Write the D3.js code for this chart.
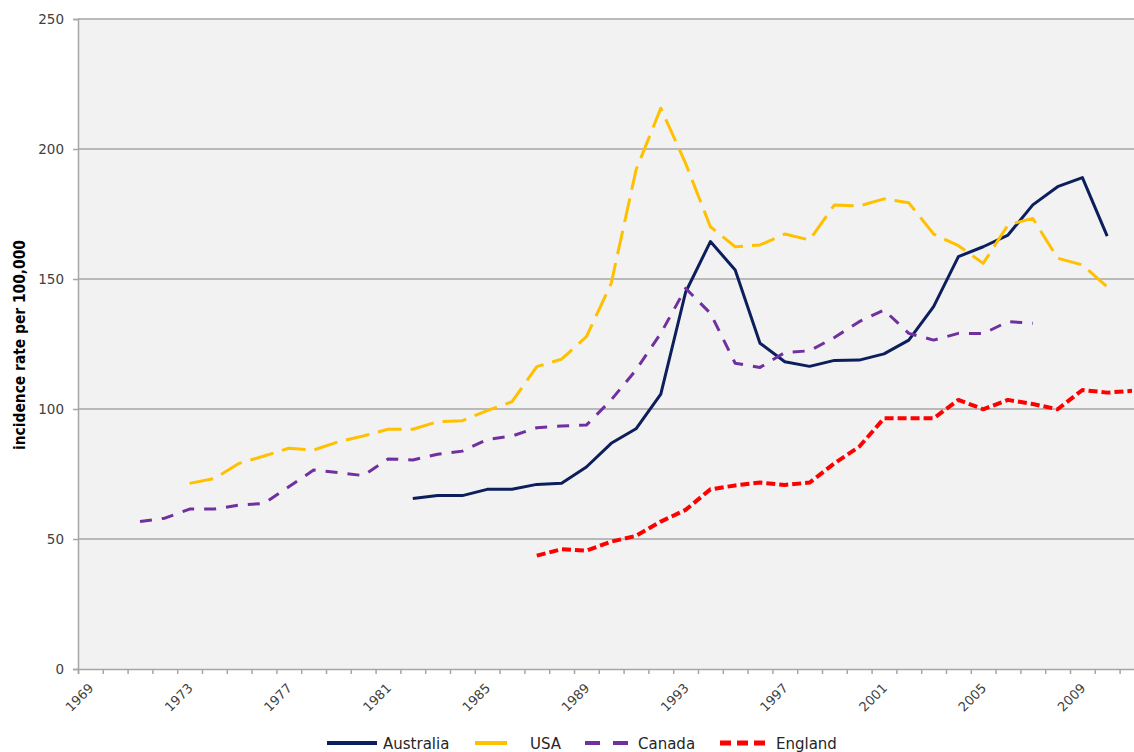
<!DOCTYPE html>
<html>
<head>
<meta charset="utf-8">
<script src="https://cdn.jsdelivr.net/npm/d3@7"></script>
<style>
  html, body { margin: 0; padding: 0; background: #fff; }
  svg { display: block; overflow: hidden; }
</style>
</head>
<body>
<div id="chart"></div>
<script>
// incidence rate per 100,000 by year
const firstYear = 1969, lastYear = 2011;
const tickYears = [1969, 1973, 1977, 1981, 1985, 1989, 1993, 1997, 2001, 2005, 2009];
const yTicks = [0, 50, 100, 150, 200, 250];

const australiaStart = 1982;
const australia = [65.6, 66.7, 66.7, 69.1, 69.1, 71.0, 71.4, 77.7, 86.8, 92.4,
  105.7, 144.9, 164.4, 153.5, 125.3, 118.2, 116.4, 118.7, 118.8, 121.2,
  126.5, 139.4, 158.6, 162.4, 166.9, 178.5, 185.5, 189.0, 166.5];

const usaStart = 1973;
const usa = [71.4, 73.3, 79.1, 81.9, 84.9, 84.2, 87.4, 89.6, 92.2, 92.2,
  95.1, 95.5, 99.4, 102.8, 116.3, 119.2, 127.8, 148.3, 191.9, 215.7,
  194.5, 170.1, 162.4, 163.1, 167.3, 165.0, 178.5, 178.1, 180.8, 179.3,
  167.3, 162.8, 156.0, 170.8, 173.3, 158.0, 155.4, 147.0];

const canadaStart = 1971;
const canada = [56.7, 58.0, 61.5, 61.5, 63.1, 63.7, 70.1, 76.5, 75.5, 74.4,
  80.8, 80.4, 82.6, 83.8, 88.3, 89.6, 92.8, 93.5, 93.8, 103.5,
  115.0, 129.1, 146.4, 136.8, 117.6, 116.0, 121.7, 122.4, 127.5, 133.6,
  138.1, 129.1, 126.5, 129.1, 129.0, 133.6, 133.0];

const englandStart = 1987;
const england = [43.6, 46.1, 45.5, 49.0, 51.2, 56.7, 61.2, 69.1, 70.6, 71.7,
  70.8, 71.7, 79.1, 85.5, 96.4, 96.4, 96.4, 103.5, 99.9, 103.5,
  101.9, 99.9, 107.3, 106.3, 107.0];

const series = [
  { name: "Australia", start: australiaStart, values: australia, color: "#0c1f5c", width: 3, dash: null, legendDash: null },
  { name: "USA", start: usaStart, values: usa, color: "#ffc000", width: 3, dash: "24,9", legendDash: null },
  { name: "Canada", start: canadaStart, values: canada, color: "#7030a0", width: 3, dash: "12,10", legendDash: "15,13" },
  { name: "England", start: englandStart, values: england, color: "#ff0000", width: 4, dash: "9,4", legendDash: "11,6" }
];

const W = 1134, H = 752;
const plotLeft = 78, plotRight = 1144.4, plotTop = 19, plotBottom = 669;

const svg = d3.select("#chart").append("svg")
  .attr("width", W).attr("height", H);

const x = d3.scaleLinear()
  .domain([firstYear - 0.5, lastYear + 0.5])
  .range([plotLeft, plotRight]);

const y = d3.scaleLinear()
  .domain([0, 250])
  .range([plotBottom, plotTop]);

// plot area
svg.append("rect")
  .attr("x", plotLeft).attr("y", plotTop)
  .attr("width", plotRight - plotLeft).attr("height", plotBottom - plotTop)
  .attr("fill", "#f2f2f2");

// gridlines
svg.append("g")
  .selectAll("line")
  .data(yTicks.filter(d => d > 0))
  .enter().append("line")
  .attr("x1", plotLeft).attr("x2", plotRight)
  .attr("y1", d => y(d)).attr("y2", d => y(d))
  .attr("stroke", "#a6a6a6").attr("stroke-width", 1.5);

// y axis
const yAxis = svg.append("g")
  .attr("transform", `translate(${plotLeft},0)`)
  .call(d3.axisLeft(y).tickValues(yTicks).tickSize(5).tickPadding(9));
yAxis.select(".domain").attr("stroke", "#a6a6a6").attr("stroke-width", 1.5);
yAxis.selectAll(".tick line").attr("stroke", "#a6a6a6").attr("stroke-width", 1.5);
yAxis.selectAll("text")
  .attr("font-family", "DejaVu Sans, sans-serif")
  .attr("font-size", 13.5).attr("fill", "#404040");

// x axis (ticks between categories)
const boundaries = d3.range(firstYear, lastYear + 2).map(d => d - 0.5);
const xAxis = svg.append("g")
  .attr("transform", `translate(0,${plotBottom})`)
  .call(d3.axisBottom(x).tickValues(boundaries).tickSize(5).tickFormat(""));
xAxis.select(".domain").attr("stroke", "#a6a6a6").attr("stroke-width", 1.5);
xAxis.selectAll(".tick line").attr("stroke", "#a6a6a6").attr("stroke-width", 1.5);

svg.append("g")
  .selectAll("text")
  .data(tickYears)
  .enter().append("text")
  .attr("transform", d => `translate(${x(d) + 4},${plotBottom + 20}) rotate(-45)`)
  .attr("text-anchor", "end")
  .attr("font-family", "DejaVu Sans, sans-serif")
  .attr("font-size", 13)
  .attr("fill", "#404040")
  .text(d => d);

// y title
svg.append("text")
  .attr("transform", `translate(25,345) rotate(-90)`)
  .attr("text-anchor", "middle")
  .attr("font-family", "DejaVu Sans Condensed, DejaVu Sans, sans-serif")
  .attr("font-weight", "bold")
  .attr("font-size", 16)
  .attr("textLength", 210)
  .attr("lengthAdjust", "spacingAndGlyphs")
  .attr("fill", "#000")
  .text("incidence rate per 100,000");

// lines
const line = d3.line()
  .x(d => x(d.year))
  .y(d => y(d.value));

series.forEach(s => {
  const pts = s.values.map((v, i) => ({ year: s.start + i, value: v }));
  svg.append("path")
    .datum(pts)
    .attr("d", line)
    .attr("fill", "none")
    .attr("stroke", s.color)
    .attr("stroke-width", s.width)
    .attr("stroke-linejoin", "round")
    .attr("stroke-dasharray", s.dash);
});

// legend
const legendItems = [
  { x0: 327, x1: 377, tx: 383 },
  { x0: 475, x1: 507, tx: 530 },
  { x0: 585, x1: 629, tx: 638 },
  { x0: 720, x1: 767, tx: 776 }
];
const legendY = 743;
const lg = svg.append("g");
series.forEach((s, i) => {
  const it = legendItems[i];
  lg.append("line")
    .attr("x1", it.x0).attr("x2", it.x1)
    .attr("y1", legendY).attr("y2", legendY)
    .attr("stroke", s.color)
    .attr("stroke-width", s.width + 1)
    .attr("stroke-dasharray", s.legendDash);
  lg.append("text")
    .attr("x", it.tx).attr("y", legendY + 5.5)
    .attr("font-family", "DejaVu Sans, sans-serif")
    .attr("font-size", 15)
    .attr("fill", "#262626")
    .text(s.name);
});
</script>
</body>
</html>
